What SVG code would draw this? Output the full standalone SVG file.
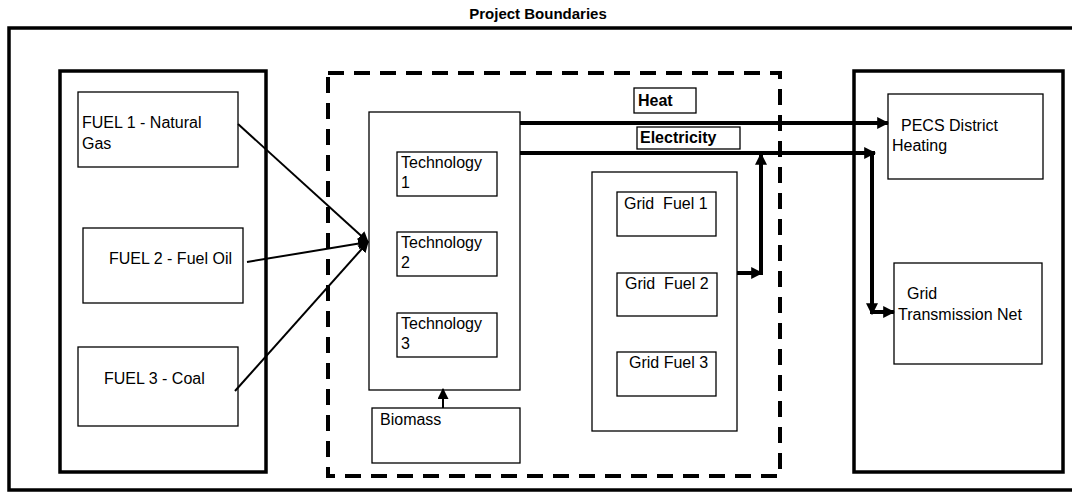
<svg xmlns="http://www.w3.org/2000/svg" width="1072" height="494" viewBox="0 0 1072 494">
<style>
text{font-family:"Liberation Sans",Arial,sans-serif;font-size:16px;fill:#000;white-space:pre}
.b{font-weight:bold}
.thin{fill:#fff;stroke:#000;stroke-width:1.3}
.thick{fill:none;stroke:#000;stroke-width:3.5}
.dash{fill:none;stroke:#000;stroke-width:4;stroke-dasharray:16 10}
.fl{stroke:#000;stroke-width:2;fill:none}
.pw{stroke:#000;stroke-width:4;fill:none}
</style>
<defs>
<marker id="ah" viewBox="0 0 10 10" refX="9" refY="5" markerWidth="11" markerHeight="11" markerUnits="userSpaceOnUse" orient="auto"><path d="M0,0L10,5L0,10z" fill="#000"/></marker>
<marker id="ah3" viewBox="0 0 10 10" refX="9" refY="5" markerWidth="12" markerHeight="12" markerUnits="userSpaceOnUse" orient="auto"><path d="M0,0L10,5L0,10z" fill="#000"/></marker>
</defs>
<g id="boundary">
<rect class="thick" x="9" y="28" width="1070" height="462"/>
<text class="b" x="538" y="19" text-anchor="middle" style="font-size:15px">Project Boundaries</text>
</g>
<g id="fuels-container"><rect class="thick" x="60" y="71" width="206" height="401"/></g>
<g id="fuel1"><rect class="thin" x="78" y="92" width="160" height="75"/><text x="82" y="128">FUEL 1 - Natural</text><text x="82" y="149">Gas</text></g>
<g id="fuel2"><rect class="thin" x="83" y="228" width="160" height="75"/><text x="109" y="264">FUEL 2 - Fuel Oil</text></g>
<g id="fuel3"><rect class="thin" x="78" y="347" width="160" height="79"/><text x="104" y="384">FUEL 3 - Coal</text></g>
<g id="project-area"><rect class="dash" x="328" y="73" width="452" height="403"/></g>
<g id="tech-container"><rect class="thin" x="369" y="112" width="151" height="278"/></g>
<g id="tech1"><rect class="thin" x="397" y="152" width="100" height="44"/><text x="401" y="168">Technology</text><text x="401" y="188">1</text></g>
<g id="tech2"><rect class="thin" x="397" y="232" width="100" height="44"/><text x="401" y="248">Technology</text><text x="401" y="268">2</text></g>
<g id="tech3"><rect class="thin" x="397" y="313" width="100" height="44"/><text x="401" y="329">Technology</text><text x="401" y="349">3</text></g>
<g id="biomass"><rect class="thin" x="372" y="408" width="148" height="55"/><text x="380" y="425">Biomass</text></g>
<g id="heat-label"><rect class="thin" x="634" y="88" width="62" height="25"/><text class="b" x="638" y="106">Heat</text></g>
<g id="electricity-label"><rect class="thin" x="637" y="127" width="103" height="22"/><text class="b" x="640" y="143">Electricity</text></g>
<g id="grid-fuels-container"><rect class="thin" x="592" y="172" width="145" height="259"/></g>
<g id="gridfuel1"><rect class="thin" x="617" y="192" width="99" height="44"/><text x="624" y="209" xml:space="preserve">Grid  Fuel 1</text></g>
<g id="gridfuel2"><rect class="thin" x="617" y="273" width="100" height="43"/><text x="625" y="289" xml:space="preserve">Grid  Fuel 2</text></g>
<g id="gridfuel3"><rect class="thin" x="617" y="352" width="99" height="44"/><text x="629" y="368">Grid Fuel 3</text></g>
<g id="receivers-container"><rect class="thick" x="854" y="71" width="209" height="401"/></g>
<g id="pecs"><rect class="thin" x="888" y="94" width="155" height="85"/><text x="901" y="131">PECS District</text><text x="892" y="151">Heating</text></g>
<g id="grid-net"><rect class="thin" x="894" y="263" width="148" height="101"/><text x="907" y="299">Grid</text><text x="898" y="320">Transmission Net</text></g>
<g id="connectors">
<line class="fl" x1="238" y1="124" x2="368" y2="242" marker-end="url(#ah)"/>
<line class="fl" x1="247" y1="262" x2="368" y2="242" marker-end="url(#ah)"/>
<line class="fl" x1="235" y1="391" x2="368" y2="242" marker-end="url(#ah)"/>
<line class="fl" x1="443" y1="408" x2="443" y2="389" marker-end="url(#ah)"/>
<line class="pw" x1="520" y1="123" x2="888" y2="123" marker-end="url(#ah3)"/>
<line class="pw" x1="520" y1="153" x2="875" y2="153" marker-end="url(#ah3)"/>
<line class="pw" x1="872" y1="151" x2="872" y2="314" marker-end="url(#ah3)"/>
<line class="pw" x1="872" y1="312" x2="894" y2="312" marker-end="url(#ah3)"/>
<line class="pw" x1="737" y1="273" x2="762" y2="273" marker-end="url(#ah3)"/>
<line class="pw" x1="761" y1="275" x2="761" y2="154" marker-end="url(#ah3)"/>
</g>
</svg>
